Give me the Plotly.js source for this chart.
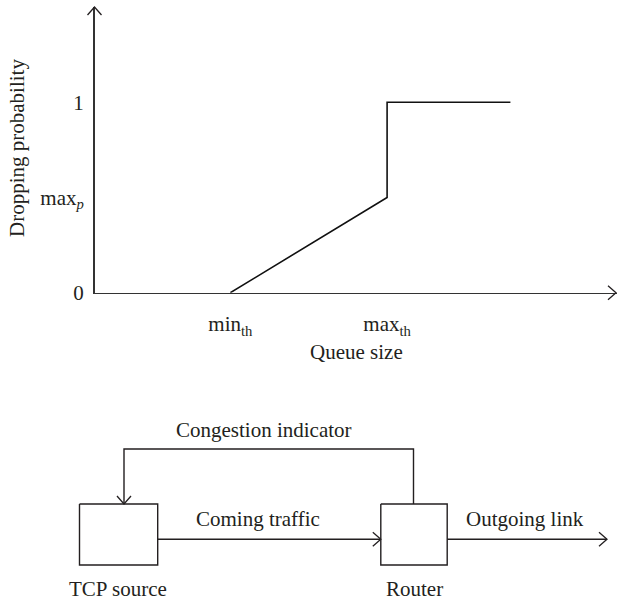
<!DOCTYPE html>
<html>
<head>
<meta charset="utf-8">
<script src="https://cdn.plot.ly/plotly-3.0.1.min.js"></script>
<style>html,body{margin:0;padding:0;background:#fff;}#chart{width:617px;height:600px;}</style>
</head>
<body>
<div id="chart"></div>
<script>
// ---- data: RED dropping-probability curve ----
var queueSize = [26, 56, 56, 79.6];          // min_th, max_th, max_th, end
var dropProb  = [0, 0.5, 1, 1];              // 0, max_p, 1, 1
var yTickVals = [0, 0.5, 1];
var yTickText = ['0', 'max<sub><i>p</i></sub>', '1'];
var xTickVals = [26, 56];
var xTickText = ['min<sub>th</sub>', 'max<sub>th</sub>'];
var xTitle = 'Queue size';
var yTitle = 'Dropping probability';
// ---- block diagram labels ----
var boxLabels = ['TCP source', 'Router'];
var linkLabels = ['Coming traffic', 'Outgoing link', 'Congestion indicator'];

var W = 617, H = 600;
var FONT = 'Liberation Serif, Times New Roman, serif';
var INK = '#231f20';
var FS = 21;

// top chart geometry (pixels)
var axL = 94.5, axR = 617, axB = 292.7, axT = 7;

// diagram geometry (pixels, in x2/y2 which map 1:1 to pixels)
var src = {x0: 79.5, x1: 157.7, y0: 504, y1: 565};
var rtr = {x0: 380.8, x1: 447.2, y0: 504, y1: 565};
var linkY = 539.3, outEnd = 607, fbTop = 449, fbLeft = 124, fbRight = 413.5;

function boxTrace(b) {
  return {x: [b.x0, b.x1, b.x1, b.x0, b.x0], y: [b.y0, b.y0, b.y1, b.y1, b.y0],
    xaxis: 'x2', yaxis: 'y2', mode: 'lines', line: {color: INK, width: 1.4},
    hoverinfo: 'skip', showlegend: false};
}
function lineTrace(xs, ys, w) {
  return {x: xs, y: ys, xaxis: 'x2', yaxis: 'y2', mode: 'lines',
    line: {color: INK, width: w || 1.4}, hoverinfo: 'skip', showlegend: false};
}

// chevron arrowheads (open "V" heads), built in the 1:1 pixel axes
var chevX = [], chevY = [];
function chevron(x, y, dir) {
  var L = 8, S = 7, a, b;
  if (dir === 'right') { a = [x - L, y - S]; b = [x - L, y + S]; }
  else if (dir === 'up') { a = [x - S, y + L]; b = [x + S, y + L]; }
  else { a = [x - S, y - L]; b = [x + S, y - L]; }
  chevX.push(a[0], x, b[0], null);
  chevY.push(a[1], y, b[1], null);
}
chevron(axR - 1, axB, 'right');
chevron(axL, axT, 'up');
chevron(rtr.x0, linkY, 'right');
chevron(outEnd, linkY, 'right');
chevron(fbLeft, src.y0, 'down');

var traces = [
  {x: queueSize, y: dropProb, mode: 'lines', line: {color: '#111', width: 1.6},
   hoverinfo: 'x+y', showlegend: false},
  boxTrace(src), boxTrace(rtr),
  lineTrace([src.x1, rtr.x0], [linkY, linkY]),
  lineTrace([rtr.x1, outEnd], [linkY, linkY]),
  lineTrace([fbRight, fbRight, fbLeft, fbLeft], [rtr.y0, fbTop, fbTop, src.y0]),
  lineTrace(chevX, chevY, 1.3)
];

var ann = [];
function label(txt, x, y, extra) {
  var a = {xref: 'x2', yref: 'y2', x: x, y: y, text: txt, showarrow: false,
    font: {family: FONT, size: FS, color: INK}, xanchor: 'center', yanchor: 'middle'};
  for (var k in extra) a[k] = extra[k];
  ann.push(a);
}
label(yTitle, 17, 148, {textangle: -90});
label(xTitle, 356, 352);
label(linkLabels[2], 264, 430);
label(linkLabels[0], 258, 519);
label(linkLabels[1], 524.6, 519);
label(boxLabels[0], 118, 589);
label(boxLabels[1], 414.5, 589);

var layout = {
  width: W, height: H, margin: {l: 0, r: 0, t: 0, b: 0, pad: 0},
  paper_bgcolor: '#fff', plot_bgcolor: 'rgba(0,0,0,0)',
  font: {family: FONT, size: FS, color: INK},
  showlegend: false,
  xaxis: {domain: [axL / W, axR / W], range: [0, 100], anchor: 'y',
    showgrid: false, zeroline: false, showline: true, linecolor: '#333', linewidth: 1.5,
    tickvals: xTickVals, ticktext: xTickText, ticks: 'outside', ticklen: 12,
    tickcolor: 'rgba(0,0,0,0)', tickfont: {family: FONT, size: FS, color: INK}, fixedrange: true},
  yaxis: {domain: [(H - axB) / H, (H - axT) / H], range: [0, 1.5], anchor: 'x',
    showgrid: false, zeroline: false, showline: true, linecolor: '#333', linewidth: 1.5,
    tickvals: yTickVals, ticktext: yTickText, ticks: 'outside', ticklen: 5,
    tickcolor: 'rgba(0,0,0,0)', tickfont: {family: FONT, size: FS, color: INK}, fixedrange: true},
  xaxis2: {domain: [0, 1], range: [0, W], anchor: 'y2', visible: false, fixedrange: true},
  yaxis2: {domain: [0, 1], range: [H, 0], anchor: 'x2', visible: false, fixedrange: true},
  annotations: ann
};

Plotly.newPlot('chart', traces, layout, {displayModeBar: false, staticPlot: true});
</script>
</body>
</html>
